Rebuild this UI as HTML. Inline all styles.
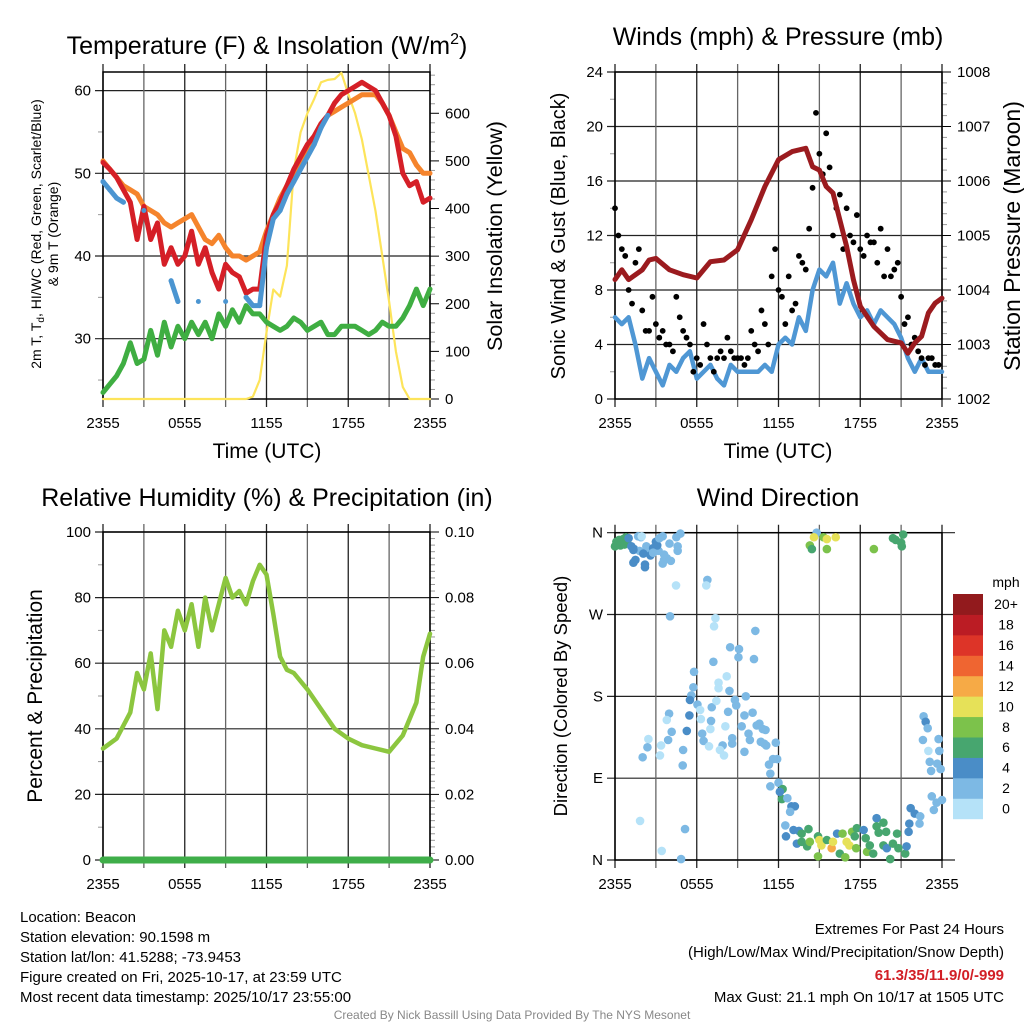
<!DOCTYPE html>
<html><head><meta charset="utf-8"><style>
html,body{margin:0;padding:0;background:#fff;width:1024px;height:1024px;overflow:hidden}
svg{display:block;font-family:"Liberation Sans",Arial,sans-serif}
</style></head><body>
<svg id="c" width="1024" height="1024" viewBox="0 0 1024 1024" xmlns="http://www.w3.org/2000/svg">
<g id="g1"></g>
<g id="g2"></g>
<g id="g3"></g>
<g id="g4"></g>
<g font-size="15" fill="#000">
<text x="20" y="922">Location: Beacon</text>
<text x="20" y="942">Station elevation: 90.1598 m</text>
<text x="20" y="962">Station lat/lon: 41.5288; -73.9453</text>
<text x="20" y="982">Figure created on Fri, 2025-10-17, at 23:59 UTC</text>
<text x="20" y="1002">Most recent data timestamp: 2025/10/17 23:55:00</text>
<text x="1004" y="934" text-anchor="end">Extremes For Past 24 Hours</text>
<text x="1004" y="957" text-anchor="end">(High/Low/Max Wind/Precipitation/Snow Depth)</text>
<text x="1004" y="980" text-anchor="end" fill="#d21f26" font-weight="bold">61.3/35/11.9/0/-999</text>
<text x="1004" y="1002" text-anchor="end">Max Gust: 21.1 mph On 10/17 at 1505 UTC</text>
<text x="512" y="1019" text-anchor="middle" font-size="12" fill="#888">Created By Nick Bassill Using Data Provided By The NYS Mesonet</text>
</g>
</svg>
<script>
const xTickLabels=["2355","0555","1155","1755","2355"];
const tempRed=[51.3,50.5,49.5,48,46.5,42,46,42,44,39,41,39,40,43,39,41,38,36,39,38,37.5,35.5,36,36,42.5,45,46.5,48.5,50.5,52,53.5,54.5,56,57,58.5,59.5,60,60.5,61,60.5,60,58.5,57,54.5,50,48.5,49,46.5,47];
const tempOrange=[51.5,50.5,49.5,48.5,48,47.5,46,45.5,45,44,43.5,44,44.5,45,43.5,42,41.5,42.5,41,40,40,39.5,40,40.5,43,45,47,48.5,50,51.5,53,54.5,56,57,57.5,58,58.5,59,59.5,59.5,59.5,58.5,57,55,53,52.5,51,50,50];
const windChill=[49,48,47,46.5,null,null,45.5,null,null,null,37,34.5,null,null,34.5,null,null,null,34.5,null,null,35,34,34,41,44.5,45.5,47.5,49,50.5,52,53.5,55.5,57,null,null,null,null,null,null,null,null,null,null,null,null,null,null,null];
const dewPoint=[23.5,24.5,25.5,27,29.5,27,27.5,31,28,32,29,31.5,30,32,30.5,32,30,33,31.5,33.5,32,34,33,33,32,31.5,31,31.5,32.5,32,31,31.5,32,30.5,30.5,31.5,31.5,31.5,31,30.5,31,32,31.5,31.5,32.5,34,36,34,36];
const solar=[0,0,0,0,0,0,0,0,0,0,0,0,0,0,0,0,0,0,0,0,0,0,5,40,140,230,215,280,480,560,600,630,665,670,672,685,640,600,545,470,395,300,205,100,25,0,0,0,0];
const windSpeed=[6,5.5,6,4,1.5,3,2,1,2.5,2,3,3.5,1.5,2,2.5,1.5,1,2.5,2,2,2,2,2.5,2,4,4.5,4,6,5,8,9.5,9,10,7,8.5,7,6,6.5,5.5,6.5,6,5.5,4.5,3,2,3,2,2,2];
const gust=[14,12,11,10.5,8,7,10,11,6.5,5,5,7.5,5.5,4.5,5,4,4,3.5,7.5,6,5,4.5,4,2,3,2.5,5.5,4,3,2,3,3.5,3,4.5,3.5,3,3,3,2.5,3,5,4,3.5,6.5,5.5,4,9,11,8,7.5,5.5,9,6.5,7,10.5,10,9.5,12.5,15.5,21,18,16.5,19.5,17,12,14,15,11,14,12,11.5,13.5,11,10.5,12,11.5,11.5,10,12.5,9,11,9,9.5,10,7.5,5.5,6,4,4.5,3.5,3,2.5,3,3,2.5,2.5];
const pressT=[0,0.5,1,2,2.5,3,4,5,6,7,8,9,10,11,12,13,14,14.5,15,15.5,16,16.5,17,17.5,18,19,20,21,21.5,22,22.5,23,23.5,24];
const pressure=[1004.19,1004.37,1004.19,1004.37,1004.55,1004.58,1004.37,1004.28,1004.22,1004.52,1004.55,1004.74,1005.29,1005.9,1006.39,1006.54,1006.6,1006.26,1006.2,1005.9,1005.78,1005.29,1004.8,1004.19,1003.7,1003.33,1003.09,1003.03,1002.84,1003.03,1003.15,1003.58,1003.76,1003.85];
const rhT=[0,1,2,2.5,3,3.5,4,4.5,5,5.5,6,6.5,7,7.5,8,8.5,9,9.5,10,10.5,11,11.5,12,12.5,13,13.5,14,15,16,17,18,19,20,21,22,23,23.5,24];
const rh=[34,37,45,57,52,63,46,70,65,76,70,78,65,80,70,78,86,80,82,78,85,90,87,75,62,58,57,52,46,40,37,35,34,33,38,48,62,69];
const precip=[0,0,0,0,0,0,0,0,0,0,0,0,0,0,0,0,0,0,0,0,0,0,0,0,0];
const dirTime=[0,0.1,0.2,0.3,0.4,0.5,0.6,0.7,0.8,0.9,1.0,1.2,1.4,1.5,1.8,1.9,2.2,2.3,2.5,2.6,2.8,3.0,3.2,3.5,3.6,3.8,4.0,4.5,4.6,1.35,2.08,2.2,1.35,3.1,2.6,2.8,3.5,4.1,3.6,3.26,4.6,4.8,1.7,1.96,1.84,3.43,5.14,4.85,4.04,4.48,6.78,6.7,7.37,7.27,10.3,8.45,9.1,9.06,10.2,7.22,5.8,5.75,5.6,5.5,5.46,5.27,5.0,4.97,3.97,3.8,4.16,3.9,3.38,3.3,2.45,2.38,2.03,6.05,6.25,6.3,6.4,6.5,6.9,7.05,7.0,7.1,7.44,7.6,7.6,8.2,8.4,8.3,8.1,7.9,7.7,8.0,8.6,8.6,8.8,8.9,9.6,9.5,9.3,9.8,9.9,9.5,10.1,10.4,10.6,10.85,11.05,10.7,10.95,11.1,11.8,11.6,11.9,11.3,11.4,11.4,12.0,12.3,12.25,12.1,12.65,12.95,13.2,12.85,12.5,12.55,13.1,13.5,13.7,14.2,13.35,13.7,14.1,14.3,14.9,15.0,15.15,14.9,15.55,15.9,16.0,16.3,16.5,16.7,16.9,17.0,17.2,17.4,17.6,17.75,17.7,18.25,18.4,18.5,18.7,18.95,19.2,19.2,19.35,19.7,19.9,19.7,19.95,20.2,20.4,20.7,20.8,21.3,21.4,21.55,21.6,21.7,22.0,22.35,22.4,23.25,23.4,23.6,24,22.65,22.8,22.95,22.6,23.0,23.1,23.2,23.75,23.8,23.65,23.9,14.8,14.6,14.3,14.45,15.3,15.55,16.2,15.55,19.0,20.4,20.6,21.0,21.05,21.15];
const dirDeg=[345,350,348,352,346,350,353,347,355,351,354,345,342,330,340,355,325,345,338,342,343,350,340,356,330,332,348,355,345,341,337,322,327,346,335,338,326,329,336,354,340,359,356,356,43,10,34,1,268,302,308,302,266,257,252,234,232,223,221,218,207,190,181,176,159,142,121,104,161,154,141,132,126,115,133,124,113,171,165,155,139,131,125,153,144,168,175,195,189,202,186,163,147,126,121,115,134,128,176,170,180,159,147,139,132,119,162,148,150,144,143,130,128,126,129,111,111,105,95,81,85,78,67,75,68,59,59,53,38,26,33,32,29,34,18,20,15,20,26,22,16,4,22,13,20,29,7,29,3,20,16,31,26,35,13,33,24,9,16,7,46,37,30,41,31,16,13,1,18,29,13,7,15,31,40,57,51,40,48,70,55,63,66,158,152,145,132,120,108,98,133,120,106,100,360,355,346,342,355,353,355,342,342,354,352,349,345,358];
const dirSpeed=[6,6,6,6,6,6,6,6,6,6,5,4,4,4,3,2,4,3,3,3,4,4,3,3,3,2,3,3,3,4,4,4,4,4,4,3,2,2,2,2,2,2,2,1,1,1,2,2,2,1,2,1,1,1,2,2,2,2,2,2,3,2,2,4,4,4,2,2,2,1,2,2,1,1,1,2,2,2,1,1,2,2,1,2,1,2,1,1,1,1,2,2,1,2,1,1,2,2,2,2,2,2,2,2,2,2,2,2,2,2,2,2,2,2,2,2,2,2,2,2,2,6,6,4,2,4,4,2,2,4,4,4,6,6,4,6,6,8,6,10,10,8,6,12,10,4,6,8,8,10,10,8,6,6,8,4,6,8,6,6,4,6,6,6,6,6,4,6,6,6,6,6,4,4,4,4,4,2,2,2,2,2,2,2,4,2,2,1,2,2,2,2,2,2,2,10,8,6,8,10,10,8,8,6,6,6,6,6,4];
const cbarLabels=["0","2","4","6","8","10","12","14","16","18","20+"];
const cbarColors=["#b5e2f8","#7db9e4","#4a8dc7","#47a66f","#7cc24b","#e6e158","#f6aa46","#ef6531","#dd3428","#bb1c24","#921a1d"];

const NS="http://www.w3.org/2000/svg";
function mk(parent,tag,attrs,txt){const e=document.createElementNS(NS,tag);for(const k in attrs)e.setAttribute(k,attrs[k]);if(txt!==undefined)e.textContent=txt;parent.appendChild(e);return e;}
const X0=103,X1=430,X0b=615,X1b=942;
function xs(x0,x1){return t=>x0+t*(x1-x0)/24;}
function frame(g,x0,x1,y0,y1,name){
  const X=xs(x0,x1);
  for(let h=0;h<=24;h+=3){const l=mk(g,'line',{x1:X(h),x2:X(h),y1:y0-8,y2:y1+8,stroke:(h%6==0)?'#222':'#666','stroke-width':1.3});
    
    }
  for(let i=0;i<5;i++){const t=mk(g,'text',{x:X(i*6),y:y1+29,'text-anchor':'middle','font-size':15},xTickLabels[i]);
    
    }
  const r=mk(g,'rect',{x:x0,y:y0,width:x1-x0,height:y1-y0,fill:'none',stroke:'#000','stroke-width':1.5});
  
  
  return X;
}
function hgrid(g,x0,x1,y,lab,side){
  const l=mk(g,'line',{x1:x0-8,x2:x1+(side?8:0),y1:y,y2:y,stroke:'#222','stroke-width':1.2});
  
  
  if(lab!==null){const t=mk(g,'text',{x:x0-12,y:y+5,'text-anchor':'end','font-size':15},lab);
  
  }
}
function rtick(g,x1,y,lab,major){
  const l=mk(g,'line',{x1:x1,x2:x1+(major?9:5),y1:y,y2:y,stroke:major?'#000':'#999','stroke-width':1});
  
  
  if(lab!==null){const t=mk(g,'text',{x:x1+15,y:y+5,'font-size':15},lab);
  
  }
}
function linePath(g,X,Y,ts,vals,color,w,name){
  let d='',pen=false;
  for(let i=0;i<vals.length;i++){if(vals[i]===null){pen=false;continue;}d+=(pen?'L':'M')+X(ts[i]).toFixed(1)+','+Y(vals[i]).toFixed(1);pen=true;}
  const p=mk(g,'path',{d:d,fill:'none',stroke:color,'stroke-width':w,'stroke-linejoin':'round','stroke-linecap':'round'});
  
  
  return p;
}
function title(g,x,y,txt,name,fs){const t=mk(g,'text',{x:x,y:y,'text-anchor':'middle','font-size':fs||25},txt);
  
  return t;}
function vtitle(g,x,y,txt,name,fs){const t=mk(g,'text',{x:x,y:y,'text-anchor':'middle','font-size':fs,transform:'rotate(-90 '+x+' '+y+')'},txt);
  
  return t;}
const half=tempRed.map((_,i)=>i/2);

// Panel 1
(function(){
  const g=document.getElementById('g1');const y0=72,y1=399;
  const Y=v=>338.7-(v-30)*8.27; const YR=v=>399-v*0.4762;
  [30,40,50,60].forEach(v=>hgrid(g,X0,X1,Y(v),String(v),false));
  [25,35,45,55].forEach(v=>{const l=mk(g,'line',{x1:X0-5,x2:X0,y1:Y(v),y2:Y(v),stroke:'#999'});
    
    });
  for(let v=0;v<=680;v+=20)rtick(g,X1,YR(v),v%100==0?String(v):null,v%100==0);
  const X=frame(g,X0,X1,y0,y1,'temperature');
  linePath(g,X,YR,half,solar,'#fde45a',2.2,'solar-insolation-line');
  linePath(g,X,Y,half,dewPoint,'#3fae42',5,'dewpoint-line');
  linePath(g,X,Y,half,tempOrange,'#f5842c',5,'temp-9m-line');
  linePath(g,X,Y,half,tempRed,'#d51f27',5,'temp-2m-line');
  linePath(g,X,Y,half,windChill,'#4b95d1',5,'wind-chill-line');
  windChill.forEach((v,i)=>{if(v===null)return;const c=mk(g,'circle',{cx:X(half[i]),cy:Y(v),r:2.5,fill:'#4b95d1'});
    
    });
  const t=title(g,267,54,'','temperature-title');
  t.innerHTML='Temperature (F) &amp; Insolation (W/m<tspan font-size="16" dy="-10">2</tspan><tspan dy="10">)</tspan>';
  title(g,267,458,'Time (UTC)','x-axis-title',21);
  const vt=vtitle(g,41,234,'','temp-y-axis-title',14);
  vt.innerHTML='2m T, T<tspan font-size="10" dy="3">d</tspan><tspan dy="-3">, HI/WC (Red, Green, Scarlet/Blue)</tspan>';
  vtitle(g,58,234,'& 9m T (Orange)','temp-y-axis-title-2',14);
  vtitle(g,502,236,'Solar Insolation (Yellow)','solar-axis-title',21.5);
})();

// Panel 2
(function(){
  const g=document.getElementById('g2');const y0=72,y1=399;
  const Y=v=>399-v*13.625; const YR=p=>399-(p-1002)*54.5;
  for(let v=0;v<=24;v+=4)hgrid(g,X0b,X1b,Y(v),String(v),false);
  for(let v=2;v<24;v+=4){const l=mk(g,'line',{x1:X0b-5,x2:X0b,y1:Y(v),y2:Y(v),stroke:'#999'});
    
    }
  for(let p=1002;p<=1008.001;p+=0.2){const m=Math.abs(p-Math.round(p))<0.01;rtick(g,X1b,YR(p),m?String(Math.round(p)):null,m);}
  const X=frame(g,X0b,X1b,y0,y1,'wind');
  linePath(g,X,Y,half,windSpeed,'#4f97d4',4.5,'sonic-wind-line');
  gust.forEach((v,i)=>{const c=mk(g,'circle',{cx:X(i*0.25),cy:Y(v),r:2.9,fill:'#000'});
    
    });
  linePath(g,X,YR,pressT,pressure,'#9b1b1f',5,'pressure-line');
  title(g,778,45,'Winds (mph) & Pressure (mb)','wind-title');
  title(g,778,458,'Time (UTC)','x-axis-title',21);
  vtitle(g,565,236,'Sonic Wind & Gust (Blue, Black)','wind-y-axis-title',20);
  vtitle(g,1020,236,'Station Pressure (Maroon)','pressure-axis-title',23);
})();

// Panel 3
(function(){
  const g=document.getElementById('g3');const y0=532,y1=860;
  const Y=v=>860-v*3.28; const YR=p=>860-p*3280;
  for(let v=0;v<=100;v+=20)hgrid(g,X0,X1,Y(v),String(v),false);
  for(let v=10;v<100;v+=20){const l=mk(g,'line',{x1:X0-5,x2:X0,y1:Y(v),y2:Y(v),stroke:'#999'});
    
    }
  for(let i=0;i<=50;i++){const p=i*0.002;const m=i%10==0;rtick(g,X1,YR(p),m?p.toFixed(2):null,m);}
  const X=frame(g,X0,X1,y0,y1,'humidity');
  linePath(g,X,Y,rhT,rh,'#8cc63f',4.5,'relative-humidity-line');
  linePath(g,X,YR,precip.map((_,i)=>i),precip,'#3fae49',7,'precipitation-line');
  title(g,267,506,'Relative Humidity (%) & Precipitation (in)','humidity-title');
  vtitle(g,42,696,'Percent & Precipitation','humidity-y-axis-title',21);
})();

// Panel 4
(function(){
  const g=document.getElementById('g4');const y0=532.7,y1=860;
  const Y=d=>860-d*(y1-y0)/360;
  ['N','E','S','W','N'].forEach((l,i)=>hgrid(g,X0b,X1b+5,Y(i*90),l,true));
  const X=frame(g,X0b,X1b,y0,y1,'direction');
  dirTime.forEach((t,i)=>{const b=Math.min(10,Math.floor(dirSpeed[i]/2));
    const c=mk(g,'circle',{cx:X(t),cy:Y(dirDeg[i]),r:4.3,fill:cbarColors[b]});
    
    });
  title(g,778,506,'Wind Direction','direction-title');
  vtitle(g,567,696,'Direction (Colored By Speed)','direction-y-axis-title',18.5);
  const bh=(818.7-594)/11;
  cbarColors.forEach((c,i)=>{const yy=818.7-(i+1)*bh;
    const r=mk(g,'rect',{x:953,y:yy,width:30,height:bh+0.5,fill:c});
    
    
    const t=mk(g,'text',{x:1006,y:yy+bh/2+5,'text-anchor':'middle','font-size':14},cbarLabels[i]);
    
    });
  const m=mk(g,'text',{x:1006,y:587,'text-anchor':'middle','font-size':14},'mph');
  
  
})();
</script>
</body></html>
